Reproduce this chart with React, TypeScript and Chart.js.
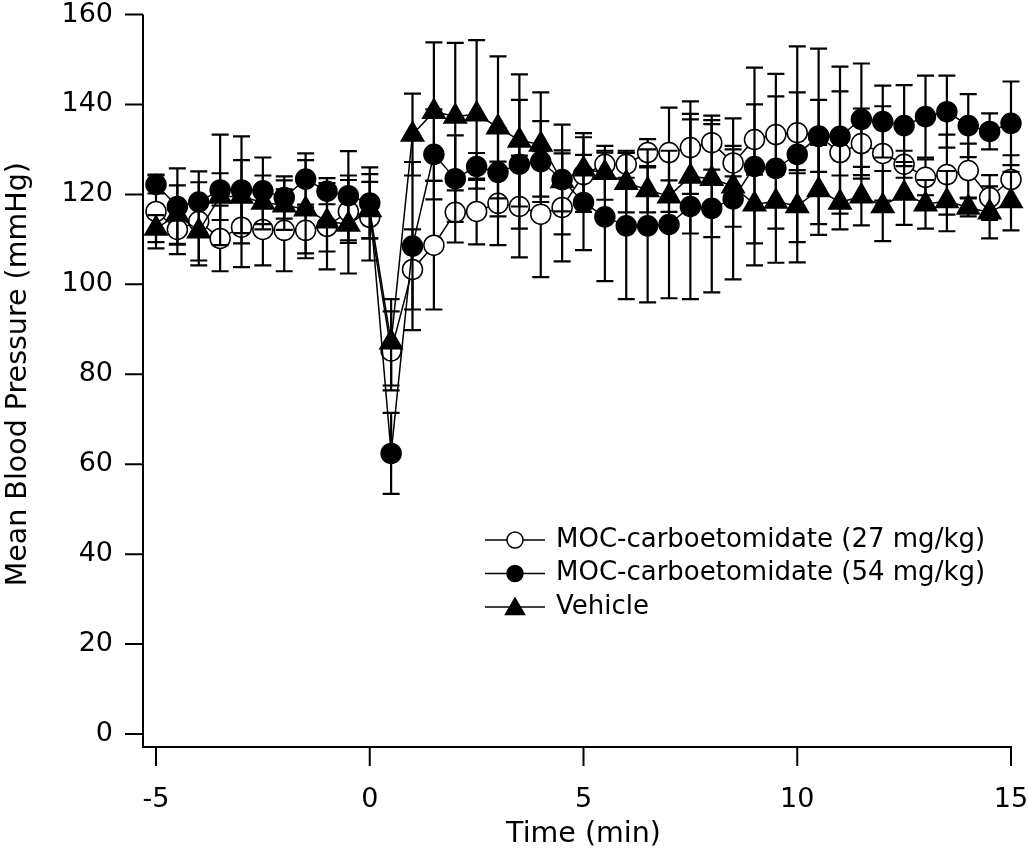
import React, { useEffect, useRef } from "react";
import { Chart, registerables } from "chart.js";

Chart.register(...registerables);

const FONT = "'DejaVu Sans', 'Open Sans', sans-serif";

// Time points (min)
const times = [
  -5, -4.5, -4, -3.5, -3, -2.5, -2, -1.5, -1, -0.5, 0,
  0.5, 1, 1.5, 2, 2.5, 3, 3.5, 4, 4.5, 5,
  5.5, 6, 6.5, 7, 7.5, 8, 8.5, 9, 9.5, 10,
  10.5, 11, 11.5, 12, 12.5, 13, 13.5, 14, 14.5, 15,
];

// MOC-carboetomidate (27 mg/kg) – open circles
const moc27 = [
  116.2, 112.2, 114.0, 110.2, 112.7, 112.2, 112.0, 112.0, 112.9, 116.2, 114.9,
  85.2, 103.3, 108.7, 116.0, 116.2, 118.0, 117.3, 115.6, 117.1, 124.4,
  126.7, 126.7, 129.3, 129.3, 130.4, 131.5, 127.0, 132.2, 133.3, 133.7,
  133.0, 129.3, 131.3, 129.1, 126.7, 123.8, 124.4, 125.3, 119.3, 123.3,
];
const moc27Err = [
  8.2, 5.5, 8.7, 7.3, 8.9, 8, 9.1, 5.1, 9.6, 7, 9.6,
  8.8, 8.9, 14.3, 6.7, 7.3, 9.3, 11.3, 14, 12, 8.3,
  3, 3, 3, 10, 10.3, 6, 3, 7.8, 8.5, 9,
  8, 13.6, 7.8, 10.5, 3, 4, 8.9, 6, 5, 5.4,
];

// MOC-carboetomidate (54 mg/kg) – filled circles
const moc54 = [
  122.2, 117.3, 118.3, 121.0, 121.0, 120.8, 119.3, 123.4, 120.7, 119.7, 118.1,
  62.4, 108.5, 128.9, 123.5, 126.2, 124.9, 126.7, 127.3, 123.3, 118.2,
  115.0, 113.0, 113.0, 113.3, 117.3, 116.9, 119.0, 126.2, 125.8, 128.9,
  132.9, 132.9, 136.7, 136.2, 135.3, 137.3, 138.4, 135.3, 134.0, 135.8,
];
const moc54Err = [
  2, 8.5, 6.8, 12.3, 11.9, 7.4, 4.7, 5.7, 2.9, 9.9, 7.9,
  9, 18.7, 10, 9.6, 3, 9.8, 14.3, 9, 12.2, 10.6,
  14.3, 16.3, 17, 16.4, 20.6, 18.7, 17.9, 22, 21, 24,
  19.5, 15.5, 12.4, 8, 9, 9.1, 8, 7, 4, 9.3,
];

// Vehicle – filled triangles
const vehicle = [
  112.4, 115.5, 111.8, 119.5, 119.5, 118.2, 117.6, 116.7, 114.0, 113.3, 116.5,
  87.1, 133.3, 138.4, 137.3, 137.8, 134.9, 132.0, 131.1, 123.0, 125.6,
  124.8, 122.6, 121.0, 119.6, 124.0, 123.5, 121.8, 117.8, 118.4, 117.4,
  121.0, 118.2, 119.6, 117.4, 120.2, 117.8, 118.5, 117.1, 116.0, 118.5,
];
const vehicleErr = [
  3, 6.5, 7.6, 5.2, 8.1, 6, 5.5, 10.9, 6.7, 10.9, 6.3,
  9.6, 9.1, 15.4, 16.4, 16.5, 15.8, 14.7, 11.6, 6.8, 8,
  6, 6.6, 5, 3.5, 12.7, 13, 9, 8.7, 6, 8,
  10, 6, 6.5, 7.8, 7, 5.4, 6.7, 2, 5.8, 6.5,
];

const seriesLabels = [
  "MOC-carboetomidate (27 mg/kg)",
  "MOC-carboetomidate (54 mg/kg)",
  "Vehicle",
];
const xTitle = "Time (min)";
const yTitle = "Mean Blood Pressure (mmHg)";
const xRange = [-5, 15];
const yRange = [0, 160];
const xStep = 5;
const yStep = 20;

const errorSets = [moc27Err, moc54Err, vehicleErr];

const AXIS_GAP = 13;
const CAP_HALF = 8.5;

function drawMarker(ctx: CanvasRenderingContext2D, kind: string, x: number, y: number, r: number) {
  ctx.save();
  ctx.lineWidth = 1.5;
  ctx.strokeStyle = "#000";
  ctx.beginPath();
  if (kind === "triangle") {
    ctx.moveTo(x, y - r);
    ctx.lineTo(x + r * Math.sin(Math.PI * 2 / 3), y + r / 2);
    ctx.lineTo(x - r * Math.sin(Math.PI * 2 / 3), y + r / 2);
    ctx.closePath();
    ctx.fillStyle = "#000";
  } else {
    ctx.arc(x, y, r, 0, Math.PI * 2);
    ctx.fillStyle = kind === "open" ? "#fff" : "#000";
  }
  ctx.fill();
  ctx.stroke();
  ctx.restore();
}

const errorBarPlugin = {
  id: "errorBars",
  beforeDatasetDraw(chart: any, args: any) {
    const errs = errorSets[args.index];
    if (!errs) return;
    const ds = chart.data.datasets[args.index];
    const ys = chart.scales.y;
    const ctx = chart.ctx;
    ctx.save();
    ctx.strokeStyle = "#000";
    ctx.lineWidth = 2.2;
    args.meta.data.forEach((pt: any, i: number) => {
      const v = ds.data[i].y;
      const e = errs[i];
      const x = pt.x;
      const yt = ys.getPixelForValue(v + e);
      const yb = ys.getPixelForValue(v - e);
      ctx.beginPath();
      ctx.moveTo(x, yt);
      ctx.lineTo(x, yb);
      ctx.moveTo(x - CAP_HALF, yt);
      ctx.lineTo(x + CAP_HALF, yt);
      ctx.moveTo(x - CAP_HALF, yb);
      ctx.lineTo(x + CAP_HALF, yb);
      ctx.stroke();
    });
    ctx.restore();
  },
};

const axesPlugin = {
  id: "offsetAxes",
  beforeDatasetsDraw(chart: any) {
    const { ctx, chartArea } = chart;
    const xs = chart.scales.x;
    const ys = chart.scales.y;
    const ax = chartArea.left - AXIS_GAP;
    const ay = chartArea.bottom + AXIS_GAP;
    ctx.save();
    ctx.strokeStyle = "#000";
    ctx.lineWidth = 2;
    ctx.beginPath();
    ctx.moveTo(ax, ys.getPixelForValue(ys.max));
    ctx.lineTo(ax, ay);
    ctx.lineTo(xs.getPixelForValue(xs.max) + 1, ay);
    ys.ticks.forEach((t: any) => {
      const py = ys.getPixelForValue(t.value);
      ctx.moveTo(ax - 18, py);
      ctx.lineTo(ax, py);
    });
    xs.ticks.forEach((t: any) => {
      const px = xs.getPixelForValue(t.value);
      ctx.moveTo(px, ay);
      ctx.lineTo(px, ay + 19);
    });
    ctx.stroke();
    ctx.restore();
  },
};

const LEGEND_X0 = 485;
const LEGEND_X1 = 545;
const LEGEND_TX = 556;
const LEGEND_Y0 = 540;
const LEGEND_DY = 33.5;
const legendKinds = ["open", "filled", "triangle"];

const legendPlugin = {
  id: "customLegend",
  afterDraw(chart: any) {
    const ctx = chart.ctx;
    ctx.save();
    seriesLabels.forEach((label, i) => {
      const cy = LEGEND_Y0 + i * LEGEND_DY;
      ctx.strokeStyle = "#000";
      ctx.lineWidth = 1.5;
      ctx.beginPath();
      ctx.moveTo(LEGEND_X0, cy);
      ctx.lineTo(LEGEND_X1, cy);
      ctx.stroke();
      const kind = legendKinds[i];
      drawMarker(ctx, kind, (LEGEND_X0 + LEGEND_X1) / 2, kind === "triangle" ? cy + 2 : cy, kind === "triangle" ? 11 : 8);
      ctx.fillStyle = "#000";
      ctx.font = `26px ${FONT}`;
      ctx.textBaseline = "middle";
      ctx.textAlign = "left";
      ctx.fillText(label, LEGEND_TX, cy);
    });
    ctx.restore();
  },
};

export default function App() {
  const canvasRef = useRef<HTMLCanvasElement | null>(null);

  useEffect(() => {
    document.body.style.margin = "0";
    document.body.style.overflow = "hidden";
    const canvas = canvasRef.current;
    if (!canvas) return;
    const tickFont = { family: FONT, size: 27 };
    const titleFont = { family: FONT, size: 28.5 };
    const base = {
      borderColor: "#000",
      borderWidth: 1.5,
      pointBorderColor: "#000",
      pointBorderWidth: 1.5,
      fill: false,
      tension: 0,
      clip: false as any,
      showLine: true,
    };
    const chart = new Chart(canvas, {
      type: "line",
      data: {
        datasets: [
          {
            ...base,
            label: seriesLabels[0],
            data: times.map((t, i) => ({ x: t, y: moc27[i] })),
            pointStyle: "circle",
            pointRadius: 10,
            pointBackgroundColor: "#fff",
            order: 3,
          },
          {
            ...base,
            label: seriesLabels[1],
            data: times.map((t, i) => ({ x: t, y: moc54[i] })),
            pointStyle: "circle",
            pointRadius: 10,
            pointBackgroundColor: "#000",
            order: 1,
          },
          {
            ...base,
            label: seriesLabels[2],
            data: times.map((t, i) => ({ x: t, y: vehicle[i] })),
            pointStyle: "triangle",
            pointRadius: 13,
            pointBackgroundColor: "#000",
            order: 2,
          },
        ] as any,
      },
      options: {
        responsive: false,
        animation: false,
        devicePixelRatio: 1,
        layout: { padding: { top: 14, right: 17, left: 0, bottom: 0 } },
        plugins: {
          legend: { display: false },
          tooltip: { enabled: false },
        },
        scales: {
          x: {
            type: "linear",
            min: xRange[0],
            max: xRange[1],
            ticks: {
              stepSize: xStep,
              font: tickFont,
              color: "#000",
              padding: 50,
              maxRotation: 0,
            },
            grid: { display: false, drawTicks: false },
            border: { display: false },
            title: {
              display: true,
              text: xTitle,
              font: titleFont,
              color: "#000",
              padding: { top: 0, bottom: 1 },
            },
            afterFit: (s: any) => {
              s.height = 119;
              s.paddingLeft = 0;
              s.paddingRight = 0;
            },
          },
          y: {
            type: "linear",
            min: yRange[0],
            max: yRange[1],
            ticks: {
              stepSize: yStep,
              font: tickFont,
              color: "#000",
              padding: 43,
            },
            grid: { display: false, drawTicks: false },
            border: { display: false },
            title: {
              display: true,
              text: yTitle,
              font: titleFont,
              color: "#000",
              padding: { top: 1, bottom: 0 },
            },
            afterFit: (s: any) => {
              s.width = 156;
              s.paddingTop = 0;
              s.paddingBottom = 0;
            },
          },
        },
      } as any,
      plugins: [axesPlugin, errorBarPlugin, legendPlugin],
    });
    return () => chart.destroy();
  }, []);

  return (
    <canvas
      ref={canvasRef}
      width={1028}
      height={853}
      style={{ display: "block", width: 1028, height: 853 }}
    />
  );
}
